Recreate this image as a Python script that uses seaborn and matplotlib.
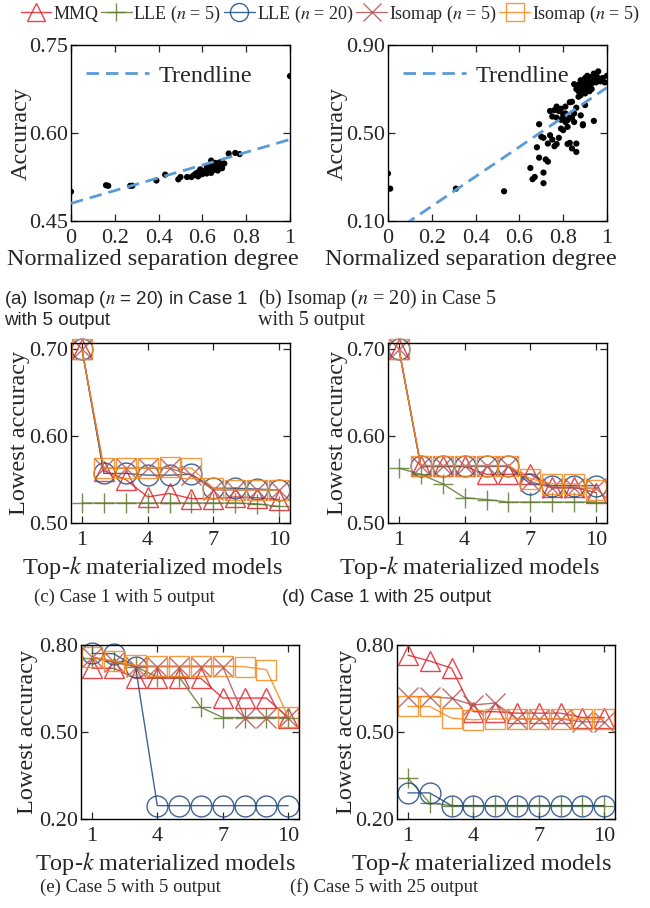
import numpy as np
import pandas as pd
import matplotlib
matplotlib.use("Agg")
import matplotlib.pyplot as plt
from matplotlib.lines import Line2D
import seaborn as sns

sns.set_style("ticks")
plt.rcParams['font.family'] = ['Liberation Serif', 'DejaVu Serif']
plt.rcParams['mathtext.fontset'] = 'stix'
plt.rcParams['xtick.direction'] = 'in'
plt.rcParams['ytick.direction'] = 'in'
plt.rcParams['xtick.top'] = True
plt.rcParams['ytick.right'] = True

# ---------------- data ----------------
sep_a = [0.0, 0.16, 0.17, 0.27, 0.28, 0.39, 0.43, 0.49, 0.50, 0.53, 0.55, 0.56, 0.57, 0.58, 0.58,
         0.59, 0.59, 0.60, 0.61, 0.62, 0.62, 0.63, 0.63, 0.64, 0.64, 0.64, 0.65, 0.65, 0.66, 0.66,
         0.67, 0.67, 0.68, 0.68, 0.69, 0.70, 0.72, 0.75, 0.77, 1.0]
acc_a = [0.500, 0.511, 0.510, 0.510, 0.510, 0.519, 0.529, 0.521, 0.525, 0.525, 0.525, 0.528, 0.531, 0.526, 0.533,
         0.529, 0.538, 0.530, 0.535, 0.531, 0.541, 0.536, 0.544, 0.532, 0.540, 0.553, 0.537, 0.545, 0.538, 0.549,
         0.536, 0.543, 0.542, 0.550, 0.540, 0.548, 0.565, 0.566, 0.564, 0.697]
trend_a = (0.480, 0.109)   # intercept, slope

sep_b = [0.0, 0.01, 0.31, 0.53, 0.65, 0.66, 0.67, 0.71, 0.71, 0.69, 0.72, 0.73, 0.68, 0.70, 0.71, 0.69,
         0.73, 0.74, 0.75, 0.76, 0.77, 0.78, 0.75, 0.76, 0.77, 0.78, 0.79, 0.80, 0.79, 0.80, 0.81, 0.82,
         0.80, 0.81, 0.83, 0.82, 0.82, 0.83, 0.84, 0.86, 0.86, 0.84, 0.85, 0.86, 0.84, 0.85, 0.88, 0.89,
         0.89, 0.90, 0.87, 0.88, 0.85, 0.94, 0.86, 0.87, 0.88, 0.88, 0.89, 0.89, 0.90, 0.90, 0.91, 0.91,
         0.91, 0.92, 0.92, 0.93, 0.93, 0.93, 0.94, 0.94, 0.95, 0.95, 0.96, 0.96, 0.97, 0.98, 0.99, 1.0,
         0.90, 0.92, 0.87, 0.74, 0.77, 0.79, 0.81, 0.83]
acc_b = [0.316, 0.247, 0.247, 0.235, 0.341, 0.290, 0.300, 0.320, 0.272, 0.388, 0.380, 0.370, 0.435, 0.483, 0.478, 0.540,
         0.452, 0.490, 0.470, 0.604, 0.570, 0.600, 0.575, 0.440, 0.450, 0.478, 0.520, 0.513, 0.560, 0.571, 0.589, 0.558,
         0.585, 0.550, 0.570, 0.528, 0.450, 0.455, 0.430, 0.452, 0.414, 0.642, 0.589, 0.615, 0.570, 0.550, 0.580, 0.540,
         0.535, 0.627, 0.665, 0.672, 0.722, 0.555, 0.700, 0.720, 0.705, 0.740, 0.690, 0.725, 0.710, 0.750, 0.695, 0.730,
         0.760, 0.715, 0.740, 0.700, 0.725, 0.755, 0.740, 0.770, 0.766, 0.730, 0.750, 0.780, 0.735, 0.750, 0.730, 0.760,
         0.680, 0.690, 0.690, 0.600, 0.620, 0.610, 0.620, 0.640]
trend_b = (0.0326, 0.674)

topk = list(range(1, 11))
series_names = ["MMQ", "LLE ($n$ = 5)", "LLE ($n$ = 20)", "Isomap ($n$ = 5)", "Isomap ($n$ = 5)"]

case1_5 = {
    "MMQ":  [0.70, 0.560, 0.550, 0.530, 0.534, 0.528, 0.528, 0.530, 0.529, 0.527],
    "LLE5": [0.523, 0.523, 0.523, 0.523, 0.523, 0.523, 0.523, 0.523, 0.522, 0.519],
    "LLE20": [0.70, 0.557, 0.557, 0.555, 0.555, 0.556, 0.540, 0.540, 0.539, 0.538],
    "ISO5": [0.70, 0.563, 0.563, 0.563, 0.563, 0.555, 0.538, 0.538, 0.538, 0.538],
    "ISO5b": [0.70, 0.563, 0.563, 0.563, 0.564, 0.563, 0.540, 0.538, 0.538, 0.538],
}
case1_25 = {
    "MMQ":  [0.70, 0.565, 0.565, 0.565, 0.556, 0.556, 0.556, 0.541, 0.541, 0.535],
    "LLE5": [0.563, 0.556, 0.545, 0.529, 0.527, 0.524, 0.524, 0.524, 0.524, 0.524],
    "LLE20": [0.70, 0.565, 0.565, 0.565, 0.565, 0.565, 0.545, 0.543, 0.543, 0.543],
    "ISO5": [0.70, 0.566, 0.566, 0.566, 0.566, 0.566, 0.548, 0.540, 0.540, 0.540],
    "ISO5b": [0.70, 0.566, 0.566, 0.566, 0.566, 0.566, 0.551, 0.545, 0.545, 0.538],
}
case5_5 = {
    "MMQ":  [0.720, 0.720, 0.685, 0.685, 0.685, 0.685, 0.617, 0.617, 0.617, 0.550],
    "LLE5": [0.755, 0.745, 0.725, 0.690, 0.690, 0.585, 0.550, 0.550, 0.550, 0.550],
    "LLE20": [0.771, 0.770, 0.725, 0.246, 0.246, 0.246, 0.246, 0.246, 0.246, 0.246],
    "ISO5": [0.760, 0.740, 0.725, 0.725, 0.725, 0.725, 0.725, 0.550, 0.550, 0.550],
    "ISO5b": [0.757, 0.745, 0.730, 0.728, 0.728, 0.728, 0.728, 0.725, 0.715, 0.553],
}
case5_25 = {
    "MMQ":  [0.765, 0.745, 0.720, 0.570, 0.570, 0.565, 0.565, 0.565, 0.550, 0.550],
    "LLE5": [0.341, 0.255, 0.246, 0.246, 0.246, 0.246, 0.246, 0.246, 0.246, 0.246],
    "LLE20": [0.290, 0.290, 0.246, 0.246, 0.246, 0.246, 0.246, 0.246, 0.246, 0.246],
    "ISO5": [0.622, 0.622, 0.616, 0.593, 0.600, 0.545, 0.545, 0.545, 0.535, 0.535],
    "ISO5b": [0.588, 0.588, 0.548, 0.542, 0.545, 0.545, 0.545, 0.545, 0.545, 0.545],
}

keys = ["MMQ", "LLE5", "LLE20", "ISO5", "ISO5b"]
colors = {"MMQ": "#e0242b", "LLE5": "#5f7a32", "LLE20": "#1f4a80", "ISO5": "#b45555", "ISO5b": "#f58a20"}
markers = {"MMQ": "^", "LLE5": "+", "LLE20": "o", "ISO5": "x", "ISO5b": "s"}

# ---------------- layout ----------------
W, H = 650, 908
fig = plt.figure(figsize=(W / 100, H / 100), dpi=100)


def rect(l, t, r, b):
    return [l / W, 1 - b / H, (r - l) / W, (b - t) / H]


TFS = 16     # tick labels
LFS = 17.5   # axis labels
CFS = 13.5   # captions


def style_axes(ax, rc, xlab_frac, ylab_frac, xlab_px):
    for s in ax.spines.values():
        s.set_linewidth(1.0)
        s.set_color("black")
    ax.tick_params(axis="both", which="major", length=5, width=0.9, labelsize=TFS,
                   top=True, right=True, direction="in")
    ax.tick_params(axis="x", pad=6)
    ax.tick_params(axis="y", pad=2)
    h = rc[3] - rc[1]
    ax.xaxis.set_label_coords(xlab_frac, -xlab_px / h)
    ax.yaxis.set_label_coords(ylab_frac, 0.5)


def scatter_panel(rc, sep, acc, trend, ylim, yticks, xlf, ylf):
    ax = fig.add_axes(rect(*rc))
    xs = np.array([0.0, 1.0])
    ax.plot(xs, trend[0] + trend[1] * xs, ls=(0, (4.5, 2.5)), color="#5b9bd5", lw=2.0,
            label="Trendline", zorder=3)
    df = pd.DataFrame({"sep": sep, "acc": acc})
    sns.scatterplot(data=df, x="sep", y="acc", ax=ax, color="black", s=20, edgecolor="none",
                    zorder=2, legend=False)
    ax.set_xlim(0, 1)
    ax.set_ylim(*ylim)
    ax.set_yticks(yticks)
    ax.set_yticklabels([f"{v:.2f}" for v in yticks])
    ax.set_xticks([0, 0.2, 0.4, 0.6, 0.8, 1.0])
    ax.set_xticklabels(["0", "0.2", "0.4", "0.6", "0.8", "1"])
    ax.set_xlabel("Normalized separation degree", fontsize=LFS)
    ax.set_ylabel("Accuracy", fontsize=LFS)
    style_axes(ax, rc, xlf, ylf, 28)
    ax.legend(loc="upper left", frameon=False, fontsize=LFS, handlelength=2.6,
              handletextpad=0.4, borderaxespad=0.2, bbox_to_anchor=(0.0, 0.97))
    return ax


def line_panel(rc, data, ylim, yticks, xlf, ylf):
    ax = fig.add_axes(rect(*rc))
    for k in keys:
        mk = markers[k]
        kw = dict(marker=mk, markersize=15, color=colors[k], lw=1.0, alpha=0.85,
                  markeredgewidth=1.0, markeredgecolor=colors[k], clip_on=False)
        if mk in ("o", "^", "s"):
            kw["markerfacecolor"] = "none"
        sns.lineplot(x=topk, y=data[k], ax=ax, **kw)
    ax.set_xlim(0.5, 10.5)
    ax.set_ylim(*ylim)
    ax.set_xticks([1, 4, 7, 10])
    ax.set_yticks(yticks)
    ax.set_yticklabels([f"{v:.2f}" for v in yticks])
    ax.set_xlabel("Top-$k$ materialized models", fontsize=LFS)
    ax.set_ylabel("Lowest accuracy", fontsize=LFS)
    style_axes(ax, rc, xlf, ylf, 31)
    return ax


scatter_panel((71, 45, 290, 221), sep_a, acc_a, trend_a, (0.45, 0.75), [0.45, 0.60, 0.75], 0.374, -0.178)
scatter_panel((388, 45, 607, 221), sep_b, acc_b, trend_b, (0.10, 0.90), [0.10, 0.50, 0.90], 0.379, -0.183)
line_panel((71, 343, 290, 523), case1_5, (0.50, 0.707), [0.50, 0.60, 0.70], 0.372, -0.187)
line_panel((388, 343, 607, 523), case1_25, (0.50, 0.707), [0.50, 0.60, 0.70], 0.374, -0.183)
line_panel((81, 645, 299, 819), case5_5, (0.20, 0.80), [0.20, 0.50, 0.80], 0.39, -0.197)
line_panel((397, 645, 615, 819), case5_25, (0.20, 0.80), [0.20, 0.50, 0.80], 0.39, -0.183)

# legend
handles = []
for k in keys:
    mk = markers[k]
    h = Line2D([0], [0], color=colors[k], marker=mk, markersize=13, lw=1.0, alpha=0.85,
               markeredgecolor=colors[k],
               markerfacecolor="none" if mk in ("o", "^", "s") else colors[k])
    handles.append(h)
fig.legend(handles, series_names, loc="center", bbox_to_anchor=(0.508, 1 - 14 / H), ncol=5,
           frameon=False, fontsize=13.0, handlelength=1.7, handletextpad=0.1, columnspacing=0.15,
           borderpad=0.1)

# captions
sans = ["Liberation Sans", "DejaVu Sans"]
fig.text(4 / W, 1 - 299 / H, "(a) Isomap ($n$ = 20) in Case 1", fontsize=13.5, family=sans, va="center")
fig.text(4 / W, 1 - 320 / H, "with 5 output", fontsize=13.5, family=sans, va="center")
fig.text(258 / W, 1 - 299 / H, "(b) Isomap ($n$ = 20) in Case 5", fontsize=14.5, va="center")
fig.text(258 / W, 1 - 320 / H, "with 5 output", fontsize=14.5, va="center")
fig.text(34 / W, 1 - 597 / H, "(c) Case 1 with 5 output", fontsize=CFS, va="center")
fig.text(282 / W, 1 - 597 / H, "(d) Case 1 with 25 output", fontsize=CFS, family=sans, va="center")
fig.text(40 / W, 1 - 887 / H, "(e) Case 5 with 5 output", fontsize=CFS, va="center")
fig.text(290 / W, 1 - 887 / H, "(f) Case 5 with 25 output", fontsize=CFS, va="center")

fig.savefig("out.png", dpi=100)
